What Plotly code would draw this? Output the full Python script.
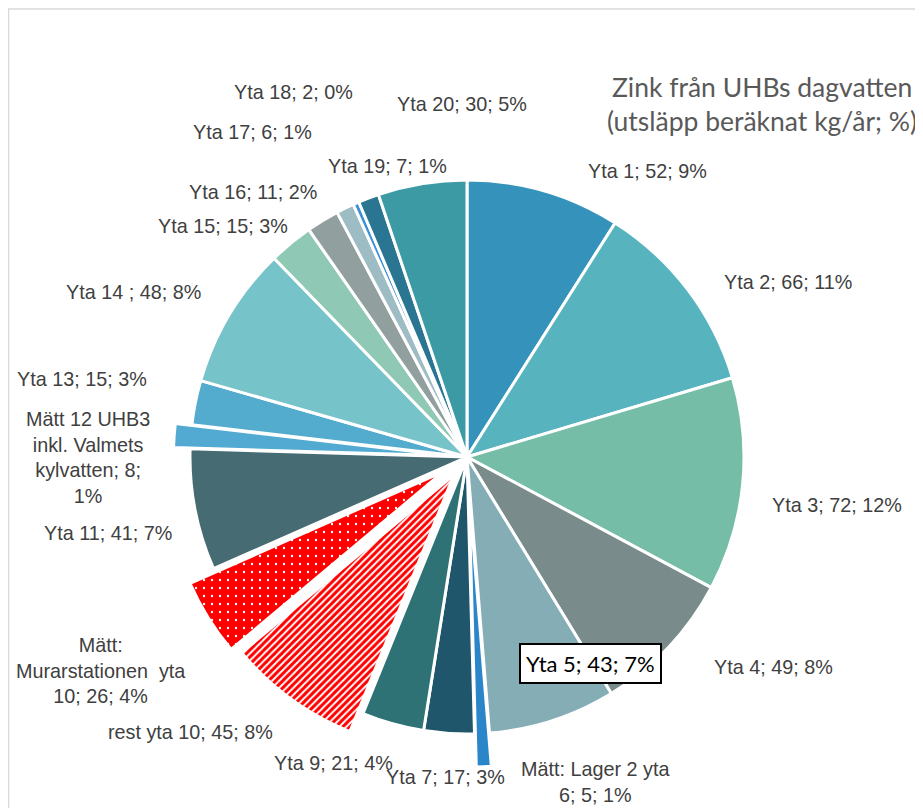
import plotly.graph_objects as go

# Zink från UHBs dagvatten, utsläpp kg/år per delområde (medurs från kl. 12)
names = [
    "Yta 1", "Yta 2", "Yta 3", "Yta 4", "Yta 5", "Mätt: Lager 2 yta 6", "Yta 7", "Yta 9",
    "rest yta 10", "Mätt: Murarstationen\u00a0 yta 10", "Yta 11",
    "Mätt 12 UHB3 inkl. Valmets kylvatten", "Yta 13", "Yta 14 ", "Yta 15", "Yta 16",
    "Yta 17", "Yta 18", "Yta 19", "Yta 20",
]
values = [52, 66, 72, 49, 43, 5, 17, 21, 45, 26, 41, 8, 15, 48, 15, 11, 6, 2, 7, 30]

colors = [
    "#3593bb", "#57b4bf", "#75bda7", "#7a8b8b", "#84adb6", "#2a86c8", "#1f566b", "#2f7276",
    "#ff0000", "#ff0000", "#466b73", "#52aad2", "#53abcd", "#77c3ca", "#8fc9b5", "#929f9f",
    "#9ebcc4", "#3b8fd9", "#2a7592", "#3c9aa4",
]
pulls = [0, 0, 0, 0, 0, 0.12, 0, 0, 0.08, 0.10, 0, 0.06, 0, 0, 0, 0, 0, 0, 0, 0]

# mätta ytor markeras med mönster
shapes = [""] * len(names)
fg = list(colors)
bg = list(colors)
sizes = [7] * len(names)
solidity = [0.3] * len(names)
shapes[8], fg[8], bg[8], sizes[8], solidity[8] = "/", "#ff0000", "white", 5, 0.6
shapes[9], fg[9], bg[9], sizes[9], solidity[9] = ".", "white", "#ff0000", 8, 0.07

# etiketternas placering i sidans pixlar (x, y från övre vänstra hörnet)
label_pos = {
    "Yta 1": (647, 171), "Yta 2": (788, 282), "Yta 3": (837, 505), "Yta 4": (773, 667),
    "Yta 5": (590, 663), "Mätt: Lager 2 yta 6": (595, 782), "Yta 7": (445, 777),
    "Yta 9": (333, 763), "rest yta 10": (190, 732), "Mätt: Murarstationen\u00a0 yta 10": (100, 670),
    "Yta 11": (108, 533), "Mätt 12 UHB3 inkl. Valmets kylvatten": (88, 457),
    "Yta 13": (82, 379), "Yta 14 ": (133, 292), "Yta 15": (223, 226), "Yta 16": (253, 192),
    "Yta 17": (252, 132), "Yta 18": (293, 92), "Yta 19": (387, 166), "Yta 20": (462, 104),
}
breaks = {
    "Mätt: Lager 2 yta 6": ["yta "],
    "Mätt: Murarstationen\u00a0 yta 10": ["Mätt: ", "yta "],
    "Mätt 12 UHB3 inkl. Valmets kylvatten": ["UHB3 ", "Valmets ", "8; "],
}

OFF = 8  # body-marginal i html-sidan
W, H = 915, 800
CX, CY, R = 467, 457, 277

total = sum(values)
half = R * (1 + max(pulls))


def px(x: float, y: float) -> tuple[float, float]:
    return (x - OFF) / W, 1 - (y - OFF) / H


def label_text(name: str, value: int) -> str:
    text = f"{name}; {value}; {round(value / total * 100)}%"
    for token in breaks.get(name, []):
        text = text.replace(token, token.rstrip() + "<br>", 1)
    return text


x0, y1 = px(CX - half, CY - half)
x1, y0 = px(CX + half, CY + half)

fig = go.Figure(
    go.Pie(
        labels=names,
        values=values,
        sort=False,
        direction="clockwise",
        rotation=0,
        pull=pulls,
        textinfo="none",
        hoverinfo="label+value+percent",
        marker=dict(
            colors=colors,
            line=dict(color="white", width=3),
            pattern=dict(shape=shapes, fgcolor=fg, bgcolor=bg, size=sizes,
                         solidity=solidity, fillmode="replace"),
        ),
        domain=dict(x=[x0, x1], y=[y0, y1]),
    )
)

annotations = []
for name, value in zip(names, values):
    x, y = px(*label_pos[name])
    if name == "Yta 5":
        annotations.append(dict(
            x=x, y=y, xref="paper", yref="paper", xanchor="center", yanchor="middle",
            text=label_text(name, value), showarrow=False,
            font=dict(family="Lato, Carlito, Calibri, sans-serif", size=22, color="black"),
            bgcolor="white", bordercolor="black", borderwidth=2, borderpad=5,
        ))
        continue
    annotations.append(dict(
        x=x, y=y, xref="paper", yref="paper", xanchor="center", yanchor="middle",
        text=label_text(name, value), showarrow=False,
        font=dict(family="Liberation Sans, Arial, sans-serif", size=19.8, color="#404040"),
        align="center",
    ))

tx, ty = px(762, 104)
annotations.append(dict(
    x=tx, y=ty, xref="paper", yref="paper", xanchor="center", yanchor="middle", showarrow=False,
    text="Zink från UHBs dagvatten<br>(utsläpp beräknat kg/år; %)",
    font=dict(family="Lato, Carlito, Calibri, sans-serif", size=26.5, color="#595959"),
))

bx0, by1 = px(8.5, 9)
fig.update_layout(
    width=W,
    height=H,
    margin=dict(l=0, r=0, t=0, b=0),
    paper_bgcolor="white",
    plot_bgcolor="white",
    showlegend=False,
    annotations=annotations,
    shapes=[dict(type="rect", xref="paper", yref="paper", x0=bx0, x1=1.05, y0=-0.05,
                 y1=by1, line=dict(color="#d9d9d9", width=1.5))],
)

fig.write_html("out.html")
